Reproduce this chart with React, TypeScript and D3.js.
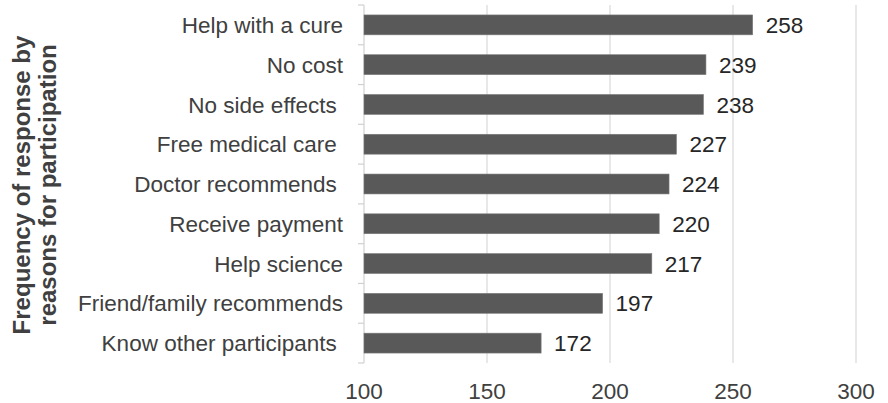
import React from "react";
import * as d3 from "d3";

const categories = [
  "Help with a cure",
  "No cost",
  "No side effects ",
  "Free medical care ",
  "Doctor recommends ",
  "Receive payment",
  "Help science",
  "Friend/family recommends",
  "Know other participants ",
];
const values = [258, 239, 238, 227, 224, 220, 217, 197, 172];
const xTicks = [100, 150, 200, 250, 300];
const titleLines = ["Frequency of response by", "reasons for participation"];

const W = 888;
const H = 403;

export default function App() {
  const x = d3.scaleLinear().domain([100, 300]).range([364, 856]);
  const y = d3
    .scaleBand<string>()
    .domain(categories)
    .range([5, 363])
    .paddingInner(0.5)
    .paddingOuter(0.25);
  const step = y.step();
  const top = 5;
  const bottom = 363;
  const boundaries = d3.range(categories.length + 1).map((i) => top + i * step);
  const font = "'Liberation Sans', Arial, sans-serif";

  return (
    <svg
      width={W}
      height={H}
      style={{ position: "absolute", left: 0, top: 0, background: "#fff" }}
      fontFamily={font}
    >
      {/* gridlines */}
      {xTicks.slice(1).map((t) => (
        <line
          key={t}
          x1={x(t)}
          x2={x(t)}
          y1={top}
          y2={bottom}
          stroke="#d9d9d9"
          strokeWidth={1.2}
        />
      ))}
      {/* y axis line */}
      <line x1={x(100)} x2={x(100)} y1={top} y2={bottom} stroke="#d0d0d0" strokeWidth={1.2} />
      {boundaries.map((b, i) => (
        <line key={i} x1={x(100) - 6} x2={x(100)} y1={b} y2={b} stroke="#d0d0d0" strokeWidth={1.2} />
      ))}
      {/* bars */}
      {categories.map((c, i) => (
        <rect
          key={c}
          x={x(100)}
          y={y(c)!}
          width={x(values[i]) - x(100)}
          height={y.bandwidth()}
          fill="#595959"
          stroke="#7a7a7a"
          strokeWidth={0.6}
        />
      ))}
      {/* value labels */}
      {categories.map((c, i) => (
        <text
          key={c}
          x={x(values[i]) + 13}
          y={y(c)! + y.bandwidth() / 2}
          dy="0.36em"
          fontSize={22.5}
          fill="#262626"
        >
          {values[i]}
        </text>
      ))}
      {/* category labels */}
      {categories.map((c) => (
        <text
          key={c}
          x={343}
          y={y(c)! + y.bandwidth() / 2}
          dy="0.36em"
          textAnchor="end"
          fontSize={22.5}
          fill="#404040"
          style={{ whiteSpace: "pre" }}
        >
          {c}
        </text>
      ))}
      {/* x tick labels */}
      {xTicks.map((t) => (
        <text key={t} x={x(t)} y={399} textAnchor="middle" fontSize={22.5} fill="#404040">
          {t}
        </text>
      ))}
      {/* y title */}
      {titleLines.map((l, i) => (
        <text
          key={l}
          transform={`translate(${30 + i * 26}, ${185}) rotate(-90)`}
          textAnchor="middle"
          fontSize={24}
          fontWeight="bold"
          fill="#404040"
        >
          {l}
        </text>
      ))}
    </svg>
  );
}
